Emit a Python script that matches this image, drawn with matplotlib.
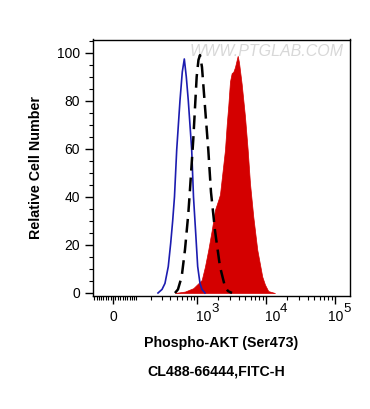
import numpy as np
import matplotlib
matplotlib.use("Agg")
import matplotlib.pyplot as plt
from matplotlib.ticker import FixedLocator, MultipleLocator, NullFormatter
from matplotlib.transforms import blended_transform_factory, ScaledTranslation

plt.rcParams["font.family"] = ["Liberation Sans", "DejaVu Sans"]

# ---------------------------------------------------------------------------
# Data (intensity, % of max)
# ---------------------------------------------------------------------------
blue_x = [258, 299, 332, 373, 406, 435, 463, 500, 559, 605, 648, 693, 742,
          832, 884, 952, 1018, 1100, 1176, 1300]
blue_y = [0, 1.5, 4, 11, 20.7, 30, 40, 59.6, 80, 92, 97.4, 90, 80,
          59.6, 40, 25, 11, 4, 1.5, 0]

dash_x = [471, 522, 593, 663, 742, 785, 878, 984, 1045, 1100, 1176, 1258,
          1453, 1590, 1700, 1818, 2148, 2540, 2808, 3208]
dash_y = [0, 1.5, 6.8, 18, 33, 43, 64, 90, 97, 99, 94, 83,
          59.6, 42, 34, 26, 11, 2.6, 0.8, 0]

red_x = [471, 663, 878, 1165, 1300, 1453, 1628, 1818, 2029, 2148, 2540,
         2689, 2836, 3001, 3177, 3351, 3547, 3881, 4053, 4435, 4951, 5419,
         5851, 6532, 7466, 8821, 9650, 10775, 13473]
red_y = [0, 0.6, 2, 5.4, 11, 18, 26, 34.6, 38.7, 41, 59.6,
         70, 78, 88, 91.5, 92, 94, 98.7, 96, 87, 73.5, 59.6,
         45.7, 31.8, 18, 6.8, 3.5, 0.8, 0]

major_ticks = [0, 1e3, 1e4, 1e5]
exponents = ["", "3", "4", "5"]

# ---------------------------------------------------------------------------
# Logicle-like (arcsinh) x scale
# ---------------------------------------------------------------------------
W = 121.0


def fwd(x):
    return np.arcsinh(np.asarray(x, dtype=float) / W) / np.log(10)


def inv(y):
    return W * np.sinh(np.asarray(y, dtype=float) * np.log(10))


fig = plt.figure(figsize=(3.70, 4.09), dpi=100)
ax = fig.add_axes([93 / 370, 1 - 296 / 409, 257 / 370, 256.5 / 409])
ax.set_xscale("function", functions=(fwd, inv))
ax.set_xlim(-87, 165000)
ax.set_ylim(-1.25, 105.5)

ax.fill_between(red_x, red_y, 0, color="#d40000", lw=0.5, zorder=2)
ax.plot(blue_x, blue_y, color="#1c1cb0", lw=1.2, zorder=3)
ax.plot(dash_x, dash_y, color="black", lw=1.8, dashes=(5.5, 2.8), zorder=4)

minor = [-k * 10 for k in range(1, 9)]
for dec in [10, 100, 1000, 10000]:
    minor += [k * dec for k in range(1, 10)]

ax.xaxis.set_major_locator(FixedLocator(major_ticks))
ax.xaxis.set_minor_locator(FixedLocator(minor))
ax.xaxis.set_major_formatter(NullFormatter())
ax.yaxis.set_major_locator(MultipleLocator(20))
ax.yaxis.set_minor_locator(MultipleLocator(5))

ax.tick_params(which="major", direction="out", length=6, width=1,
               labelsize=10, colors="black")
ax.tick_params(which="minor", direction="out", length=3, width=0.8)
for s in ax.spines.values():
    s.set_linewidth(1)

# x tick labels: "0" and 10 with a full-size raised exponent
trans = blended_transform_factory(ax.transData, ax.transAxes)
px = fig.dpi_scale_trans


def shift(dx, dy):
    return trans + ScaledTranslation(dx / 100, dy / 100, px)


label_dx = [0, -1.5, -1.5, -7]
for tick, exp, dx in zip(major_ticks, exponents, label_dx):
    if not exp:
        ax.text(tick, 0, "0", transform=shift(0, -21), ha="center",
                va="center", fontsize=10)
        continue
    ax.text(tick, 0, "10", transform=shift(dx, -21), ha="left",
            va="center", fontsize=10)
    ax.text(tick, 0, exp, transform=shift(dx + 15.5, -13), ha="left",
            va="center", fontsize=9.5)

ax.set_ylabel("Relative Cell Number", fontsize=10.3, fontweight="bold",
              labelpad=10)
fig.text(221.5 / 370, 1 - 343 / 409, "Phospho-AKT (Ser473)", fontsize=10.2,
         fontweight="bold", ha="center", va="center")
fig.text(216 / 370, 1 - 372 / 409, "CL488-66444,FITC-H", fontsize=10.2,
         fontweight="bold", ha="center", va="center")

ax.text(0.975, 0.955, "WWW.PTGLAB.COM", transform=ax.transAxes, ha="right",
        va="center", fontsize=11.5, color="#d8d8d8", style="italic", zorder=1)

fig.savefig("out.png", dpi=100, facecolor="white")
